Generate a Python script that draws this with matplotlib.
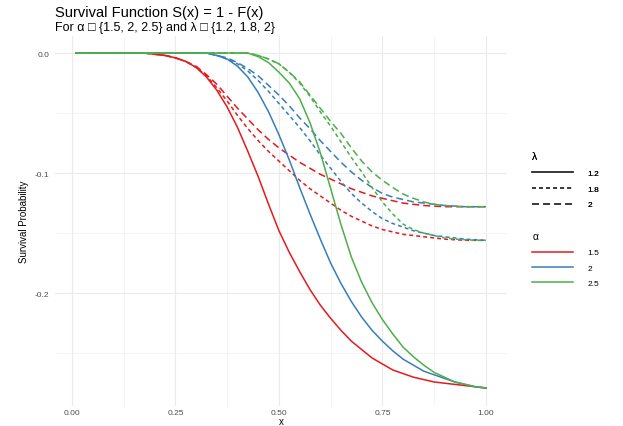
import numpy as np
import matplotlib
matplotlib.use("Agg")
import matplotlib.pyplot as plt
from matplotlib.lines import Line2D

plt.rcParams['font.family'] = ['Liberation Sans', 'DejaVu Sans']

# x grid and survival values
x = [0.01, 0.10, 0.15, 0.175, 0.20, 0.225, 0.25, 0.275, 0.30, 0.325,
     0.35, 0.375, 0.40, 0.425, 0.45, 0.475, 0.50, 0.525, 0.55, 0.575,
     0.60, 0.625, 0.65, 0.675, 0.70, 0.725, 0.75, 0.775, 0.80, 0.825,
     0.85, 0.875, 0.90, 0.925, 0.95, 0.975, 1.00]

# alpha = 1.5
a15_l12 = [0, 0, 0, 0, -0.001, -0.002, -0.004, -0.007, -0.012, -0.020,
           -0.031, -0.045, -0.062, -0.082, -0.103, -0.126, -0.148, -0.166, -0.182, -0.197,
           -0.210, -0.221, -0.231, -0.240, -0.247, -0.254, -0.259, -0.264, -0.267, -0.270,
           -0.272, -0.274, -0.275, -0.276, -0.277, -0.278, -0.279]
a15_l18 = [0, 0, 0, 0, -0.001, -0.002, -0.004, -0.007, -0.012, -0.019,
           -0.029, -0.040, -0.052, -0.063, -0.073, -0.082, -0.090, -0.098, -0.106, -0.113,
           -0.119, -0.125, -0.131, -0.136, -0.140, -0.144, -0.147, -0.149, -0.151, -0.152,
           -0.153, -0.154, -0.155, -0.1555, -0.156, -0.156, -0.156]
a15_l2 = [0, 0, 0, 0, -0.001, -0.002, -0.004, -0.007, -0.011, -0.018,
          -0.026, -0.036, -0.046, -0.055, -0.064, -0.072, -0.079, -0.085, -0.091, -0.096,
          -0.101, -0.105, -0.109, -0.113, -0.116, -0.119, -0.121, -0.123, -0.125, -0.126,
          -0.127, -0.1275, -0.128, -0.128, -0.128, -0.128, -0.128]
# alpha = 2
a2_l12 = [0, 0, 0, 0, 0, 0, 0, 0, 0, 0,
          -0.002, -0.005, -0.011, -0.020, -0.033, -0.049, -0.068, -0.089, -0.112, -0.134,
          -0.155, -0.175, -0.192, -0.207, -0.220, -0.231, -0.240, -0.248, -0.255, -0.260,
          -0.265, -0.268, -0.271, -0.274, -0.276, -0.278, -0.279]
a2_l18 = [0, 0, 0, 0, 0, 0, 0, 0, 0, 0,
          -0.002, -0.005, -0.009, -0.015, -0.023, -0.032, -0.042, -0.052, -0.062, -0.073,
          -0.085, -0.096, -0.107, -0.117, -0.125, -0.132, -0.138, -0.142, -0.145, -0.148,
          -0.150, -0.152, -0.153, -0.154, -0.155, -0.1555, -0.156]
a2_l2 = [0, 0, 0, 0, 0, 0, 0, 0, 0, 0,
         -0.002, -0.004, -0.008, -0.013, -0.019, -0.027, -0.035, -0.044, -0.054, -0.063,
         -0.073, -0.082, -0.091, -0.099, -0.106, -0.112, -0.117, -0.120, -0.122, -0.124,
         -0.125, -0.126, -0.127, -0.1275, -0.128, -0.128, -0.128]
# alpha = 2.5
a25_l12 = [0, 0, 0, 0, 0, 0, 0, 0, 0, 0,
           0, 0, 0, 0, -0.003, -0.008, -0.016, -0.025, -0.038, -0.058,
           -0.083, -0.113, -0.143, -0.170, -0.191, -0.208, -0.222, -0.234, -0.245, -0.253,
           -0.260, -0.266, -0.270, -0.274, -0.276, -0.278, -0.279]
a25_l18 = [0, 0, 0, 0, 0, 0, 0, 0, 0, 0,
           0, 0, 0, 0, -0.002, -0.005, -0.009, -0.016, -0.025, -0.036,
           -0.049, -0.061, -0.074, -0.087, -0.099, -0.112, -0.124, -0.134, -0.1425, -0.147,
           -0.150, -0.152, -0.154, -0.155, -0.1555, -0.156, -0.156]
a25_l2 = [0, 0, 0, 0, 0, 0, 0, 0, 0, 0,
          0, 0, 0, 0, -0.002, -0.005, -0.009, -0.016, -0.024, -0.035,
          -0.046, -0.057, -0.067, -0.079, -0.090, -0.099, -0.106, -0.112, -0.1175, -0.121,
          -0.124, -0.126, -0.127, -0.1275, -0.128, -0.128, -0.128]

alphas = ["1.5", "2", "2.5"]
lambdas = ["1.2", "1.8", "2"]
curves = {
    ("1.5", "1.2"): a15_l12, ("1.5", "1.8"): a15_l18, ("1.5", "2"): a15_l2,
    ("2", "1.2"): a2_l12, ("2", "1.8"): a2_l18, ("2", "2"): a2_l2,
    ("2.5", "1.2"): a25_l12, ("2.5", "1.8"): a25_l18, ("2.5", "2"): a25_l2,
}

colors = {"1.5": "#E41A1C", "2": "#377EB8", "2.5": "#4DAF4A"}
dashes = {"1.2": None, "1.8": (2.6, 2.0), "2": (4.6, 2.6)}

xticks = [0.00, 0.25, 0.50, 0.75, 1.00]
xtick_labels = ["0.00", "0.25", "0.50", "0.75", "1.00"]
yticks = [0.0, -0.1, -0.2]
ytick_labels = ["0.0", "-0.1", "-0.2"]

W, H = 623, 427
fig = plt.figure(figsize=(W / 100, H / 100), dpi=100)
ax = fig.add_axes([55 / W, 20 / H, 452 / W, 370 / H])

lw = 1.1
for a in alphas:
    for l in lambdas:
        kw = dict(color=colors[a], lw=lw)
        if dashes[l] is not None:
            kw["dashes"] = dashes[l]
        ax.plot(x, curves[(a, l)], **kw)

ax.set_xlim(-0.041, 1.051)
ax.set_ylim(-0.294, 0.0142)
ax.set_xticks(xticks)
ax.set_xticklabels(xtick_labels)
ax.set_yticks(yticks)
ax.set_yticklabels(ytick_labels)
ax.set_xticks([0.125, 0.375, 0.625, 0.875], minor=True)
ax.set_yticks([-0.05, -0.15, -0.25], minor=True)
ax.grid(True, which="major", color="#ebebeb", lw=0.8)
ax.grid(True, which="minor", color="#f2f2f2", lw=0.6)
ax.set_axisbelow(True)
for s in ax.spines.values():
    s.set_visible(False)
ax.tick_params(which="both", length=0, labelsize=6, colors="#4d4d4d", pad=4)
ax.tick_params(axis="x", pad=2)
ax.set_xlabel("x", fontsize=7, labelpad=0)
ax.set_ylabel("Survival Probability", fontsize=7, labelpad=4)

fig.text(55 / W, 1 - 13 / H, "Survival Function S(x) = 1 - F(x)", fontsize=10.5,
         va="center", ha="left")
fig.text(55 / W, 1 - 28 / H, "For \u03b1 \u25a1 {1.5, 2, 2.5} and \u03bb \u25a1 {1.2, 1.8, 2}",
         fontsize=9, va="center", ha="left")

lam_handles = [Line2D([], [], color="#333333", lw=lw) for l in lambdas]
for h, l in zip(lam_handles, lambdas):
    if dashes[l] is not None:
        h.set_dashes(dashes[l])
leg1 = fig.legend(lam_handles, lambdas, title="\u03bb", loc="upper left",
                  bbox_to_anchor=(528 / W, 1 - 148 / H), frameon=False, fontsize=6,
                  title_fontsize=7.5, handlelength=4.9, handletextpad=1.7,
                  labelspacing=0.95, alignment="left", borderpad=0)
fig.add_artist(leg1)
al_handles = [Line2D([], [], color=colors[a], lw=lw) for a in alphas]
fig.legend(al_handles, alphas, title="\u03b1", loc="upper left",
           bbox_to_anchor=(528 / W, 1 - 228 / H), frameon=False, fontsize=6,
           title_fontsize=7.5, handlelength=4.9, handletextpad=1.7,
           labelspacing=0.9, alignment="left", borderpad=0)

fig.savefig("out.png", dpi=100)
